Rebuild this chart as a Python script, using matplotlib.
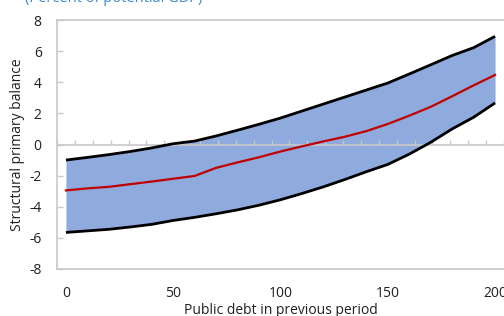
import numpy as np
import matplotlib
matplotlib.use("Agg")
import matplotlib.pyplot as plt

debt = [0, 10, 20, 30, 40, 50, 60, 70, 80, 90, 100, 110, 120, 130, 140,
        150, 160, 170, 180, 190, 200]
upper = [-1.00, -0.83, -0.65, -0.45, -0.22, 0.05, 0.22, 0.55, 0.92, 1.30,
         1.70, 2.15, 2.60, 3.05, 3.50, 3.95, 4.53, 5.12, 5.72, 6.22, 6.95]
central = [-2.95, -2.82, -2.72, -2.55, -2.38, -2.20, -2.02, -1.50, -1.15,
           -0.82, -0.45, -0.12, 0.20, 0.50, 0.86, 1.32, 1.85, 2.42, 3.10,
           3.80, 4.47]
lower = [-5.65, -5.55, -5.45, -5.30, -5.13, -4.88, -4.68, -4.45, -4.20,
         -3.90, -3.55, -3.15, -2.72, -2.25, -1.75, -1.28, -0.62, 0.14, 1.00,
         1.75, 2.67]
yticks = [-8, -6, -4, -2, 0, 2, 4, 6, 8]
xticks = [0, 50, 100, 150, 200]
n_categories = 25

plt.rcParams['font.family'] = ['Open Sans', 'DejaVu Sans']

fig = plt.figure(figsize=(5.04, 3.16), dpi=100)
ax = fig.add_axes([57 / 504, 47 / 316, 447 / 504, 249 / 316])

step = 200 / (n_categories - 1)
ax.set_xlim(-step / 2, 200 + step / 2)
ax.set_ylim(-8, 8)

ax.fill_between(debt, lower, upper, color='#8FAADC', lw=0, zorder=1)
ax.plot(debt, upper, color='black', lw=2.0, zorder=3, solid_capstyle='butt')
ax.plot(debt, lower, color='black', lw=2.0, zorder=3, solid_capstyle='butt')
ax.plot(debt, central, color='#C00000', lw=1.6, zorder=3)

gray = '#C8C8C8'
ax.axhline(0, color=gray, lw=1.2, zorder=2)
bounds = np.arange(n_categories + 1) * step - step / 2
ax.vlines(bounds, 0, 0.3, color=gray, lw=1.0, zorder=2)

for s in ['left', 'top', 'bottom']:
    ax.spines[s].set_color(gray)
    ax.spines[s].set_linewidth(1.2)
ax.spines['right'].set_visible(False)

ax.set_yticks(yticks)
ax.set_yticklabels([str(v) for v in yticks])
ax.tick_params(axis='y', direction='in', length=4, width=1, color=gray,
               pad=11, labelsize=10, labelcolor='#202020')
ax.set_xticks(xticks)
ax.set_xticklabels([str(v) for v in xticks])
ax.tick_params(axis='x', length=0, pad=12, labelsize=10, labelcolor='#202020')

fig.text(18 / 504, 1 - 145 / 316, 'Structural primary balance', rotation=90,
         ha='center', va='center', fontsize=10, color='#202020')
fig.text(281 / 504, 1.5 / 316, 'Public debt in previous period',
         ha='center', va='baseline', fontsize=10, color='#202020')
fig.text(25 / 504, 1 - 2 / 316, '(Percent of potential GDP)',
         ha='left', va='baseline', fontsize=10.5, color='#3C8AD0')

fig.savefig('out.png', dpi=100)
